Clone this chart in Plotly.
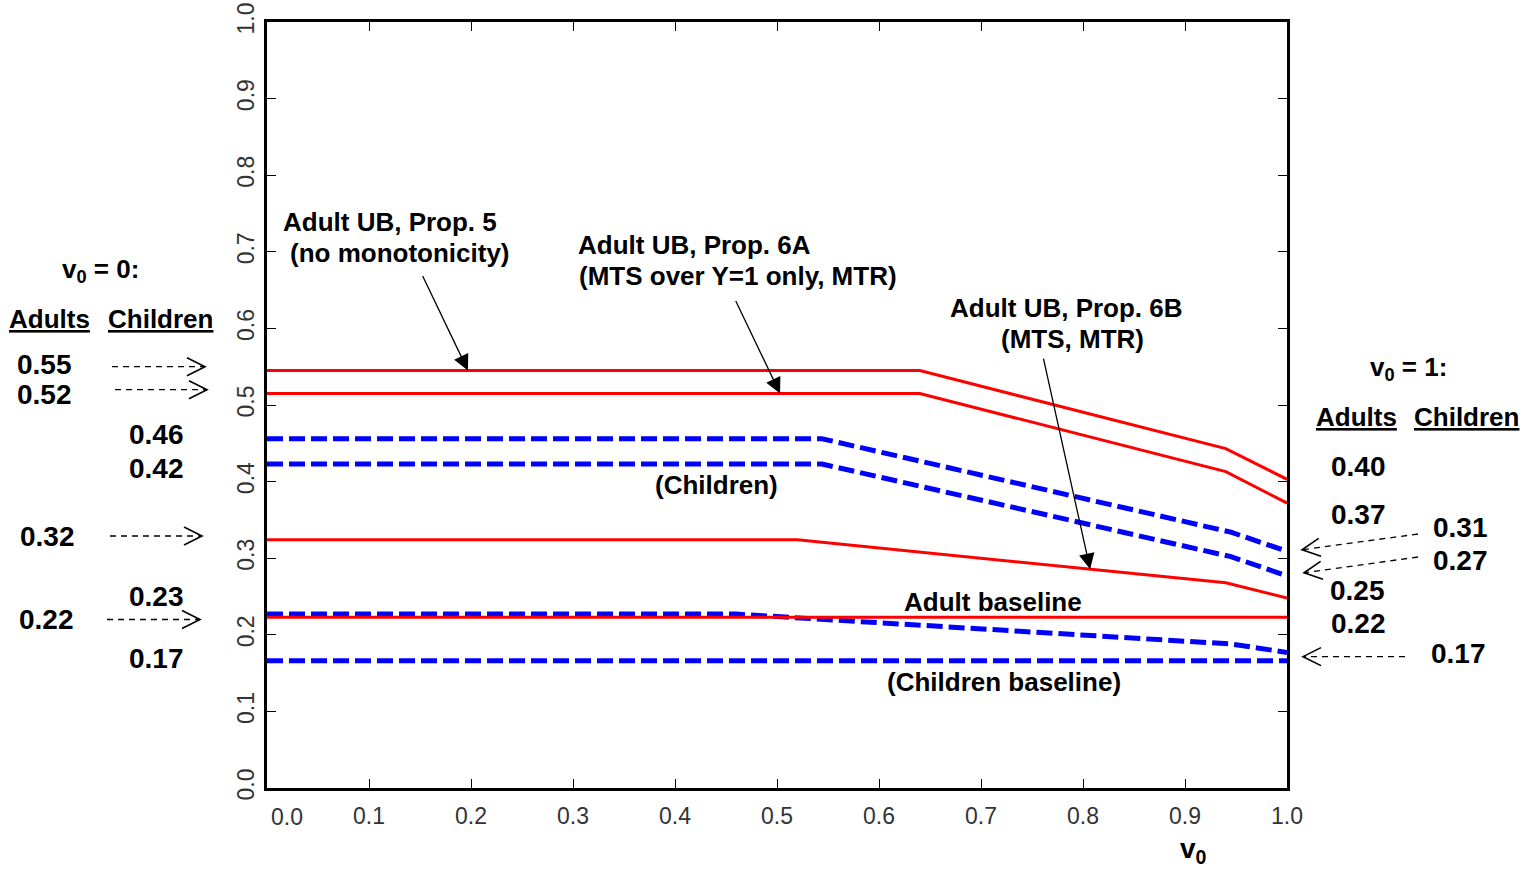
import math
import plotly.graph_objects as go

# ---------------- data ----------------
adult_p5_x = [0.0, 0.64, 0.94, 1.0]
adult_p5_y = [0.545, 0.545, 0.443, 0.403]
adult_p6a_x = [0.0, 0.64, 0.94, 1.0]
adult_p6a_y = [0.515, 0.515, 0.413, 0.372]
adult_p6b_x = [0.0, 0.52, 0.94, 1.0]
adult_p6b_y = [0.324, 0.324, 0.268, 0.248]
adult_base_x = [0.0, 1.0]
adult_base_y = [0.223, 0.223]

child_p5_x = [0.0, 0.544, 0.945, 1.0]
child_p5_y = [0.456, 0.456, 0.334, 0.309]
child_p6a_x = [0.0, 0.544, 0.945, 1.0]
child_p6a_y = [0.423, 0.423, 0.302, 0.277]
child_p6b_x = [0.0, 0.46, 0.945, 1.0]
child_p6b_y = [0.227, 0.227, 0.188, 0.177]
child_base_x = [0.0, 1.0]
child_base_y = [0.166, 0.166]

tick_vals = [0.0, 0.1, 0.2, 0.3, 0.4, 0.5, 0.6, 0.7, 0.8, 0.9, 1.0]
tick_text = ["0.0", "0.1", "0.2", "0.3", "0.4", "0.5", "0.6", "0.7", "0.8", "0.9", "1.0"]

left_adult_vals = ["0.55", "0.52", "0.32", "0.22"]
left_child_vals = ["0.46", "0.42", "0.23", "0.17"]
right_adult_vals = ["0.40", "0.37", "0.25", "0.22"]
right_child_vals = ["0.31", "0.27", "0.17"]

# ---------------- layout helpers (pixel -> paper) ----------------
W, H = 1538, 871
L, R, T, B = 267, 1287, 22, 788
PW, PH = R - L, B - T


def px(x):
    return (x - L) / PW


def py(y):
    return (B - y) / PH


RED = "#ff0000"
BLUE = "#0000ff"

fig = go.Figure()


def add_line(x, y, color, width, dash=None):
    fig.add_trace(go.Scatter(x=x, y=y, mode="lines",
                             line=dict(color=color, width=width, dash=dash),
                             showlegend=False, hoverinfo="skip"))


BDASH = "16px,6px"
add_line(child_p5_x, child_p5_y, BLUE, 5, BDASH)
add_line(child_p6a_x, child_p6a_y, BLUE, 5, BDASH)
add_line(child_p6b_x, child_p6b_y, BLUE, 5, BDASH)
add_line(child_base_x, child_base_y, BLUE, 5, BDASH)
add_line(adult_p5_x, adult_p5_y, RED, 3)
add_line(adult_p6a_x, adult_p6a_y, RED, 3)
add_line(adult_p6b_x, adult_p6b_y, RED, 3)
add_line(adult_base_x, adult_base_y, RED, 3)

annotations = []
FAM = "Liberation Sans, Arial, sans-serif"
BOLD = dict(family=FAM, size=26, color="black", weight="bold")
NUM = dict(family=FAM, size=28, color="black", weight="bold")


def label(text, cx, cy, font=BOLD):
    annotations.append(dict(text=text, x=px(cx), y=py(cy), xref="paper", yref="paper",
                            xanchor="center", yanchor="middle", showarrow=False, font=font))


label("Adult UB, Prop. 5", 390, 222)
label("(no monotonicity)", 400, 253)
label("Adult UB, Prop. 6A", 694, 245)
label("(MTS over Y=1 only, MTR)", 738, 276)
label("Adult UB, Prop. 6B", 1066, 308)
label("(MTS, MTR)", 1072, 339)
label("(Children)", 716, 485)
label("Adult baseline", 993, 602)
label("(Children baseline)", 1004, 682)

# left block
label("v<sub>0</sub> = 0:", 100, 270)
label("<u>Adults</u>", 49, 319)
label("<u>Children</u>", 160, 319)
for t, (cx, cy) in zip(left_adult_vals, [(44, 364), (44, 394), (47, 536), (46, 619)]):
    label(t, cx, cy, NUM)
for t, (cx, cy) in zip(left_child_vals, [(156, 434), (156, 468), (156, 596), (156, 658)]):
    label(t, cx, cy, NUM)

# right block
label("v<sub>0</sub> = 1:", 1408, 368)
label("<u>Adults</u>", 1356, 417)
label("<u>Children</u>", 1466, 417)
for t, (cx, cy) in zip(right_adult_vals, [(1358, 466), (1358, 514), (1357, 590), (1358, 623)]):
    label(t, cx, cy, NUM)
for t, (cx, cy) in zip(right_child_vals, [(1460, 527), (1460, 560), (1458, 653)]):
    label(t, cx, cy, NUM)

# x-axis title
label("v<sub>0</sub>", 1193, 851, dict(family=FAM, size=28, color="black", weight="bold"))

TICKFONT = dict(family=FAM, size=23, color="#333333")

# x tick label "0.0" shifted right as in the reference
annotations.append(dict(text="0.0", x=0, y=0, xref="x", yref="paper", xanchor="center",
                        yanchor="top", xshift=20, yshift=-14, showarrow=False,
                        font=TICKFONT))


# callout arrows (solid, filled heads)
def callout(xv, yv, ax, ay):
    annotations.append(dict(text="", x=xv, y=yv, xref="x", yref="y", ax=ax, ay=ay,
                            showarrow=True, arrowhead=2, arrowsize=2.4, arrowwidth=1.3,
                            arrowcolor="black", standoff=0))


callout(0.197, adult_p5_y[0], -46, -96)
callout(0.503, adult_p6a_y[0], -45, -94)
x3 = 0.807
y3 = adult_p6b_y[1] + (adult_p6b_y[2] - adult_p6b_y[1]) * (x3 - adult_p6b_x[1]) / (adult_p6b_x[2] - adult_p6b_x[1])
callout(x3, y3, -47, -212)

# dashed pointer arrows outside the plot (shapes)
shapes = []


def dashed_arrow(tail_px, tip_x_px, tip_val, tail_y_px=None):
    tip_y_px = B - tip_val * PH
    ty = tip_y_px if tail_y_px is None else tail_y_px
    tx = tail_px
    shapes.append(dict(type="line", xref="paper", yref="paper",
                       x0=px(tx), y0=py(ty), x1=px(tip_x_px), y1=py(tip_y_px),
                       line=dict(color="black", width=1.3, dash="6px,5px")))
    dx, dy = tip_x_px - tx, tip_y_px - ty
    n = math.hypot(dx, dy)
    ux, uy = dx / n, dy / n
    back, half = 18, 9
    p1 = (tip_x_px - ux * back - uy * half, tip_y_px - uy * back + ux * half)
    p2 = (tip_x_px - ux * back + uy * half, tip_y_px - uy * back - ux * half)
    path = "M %f,%f L %f,%f L %f,%f" % (px(p1[0]), py(p1[1]), px(tip_x_px), py(tip_y_px),
                                        px(p2[0]), py(p2[1]))
    shapes.append(dict(type="path", xref="paper", yref="paper", path=path,
                       line=dict(color="black", width=1.6)))


dashed_arrow(112, 205, adult_p5_y[0] + 0.005)
dashed_arrow(115, 207, adult_p6a_y[0] + 0.005)
dashed_arrow(110, 202, adult_p6b_y[0] + 0.005)
dashed_arrow(107, 200, adult_base_y[0] - 0.003)
dashed_arrow(1418, 1302, child_p5_y[-1] + 0.002, tail_y_px=534)
dashed_arrow(1418, 1304, child_p6a_y[-1] + 0.004, tail_y_px=557)
dashed_arrow(1405, 1303, (child_p6b_y[-1] + child_base_y[-1]) / 2, tail_y_px=None)

fig.update_layout(
    width=W, height=H,
    margin=dict(l=L, r=W - R, t=T, b=H - B, pad=0, autoexpand=False),
    paper_bgcolor="white", plot_bgcolor="white",
    showlegend=False,
    annotations=annotations,
    shapes=shapes,
    xaxis=dict(range=[0, 1], tickvals=tick_vals, automargin=False,
               ticktext=[""] + tick_text[1:], showgrid=False, zeroline=False,
               showline=True, linecolor="black", linewidth=2.5, mirror="ticks",
               ticks="inside", ticklen=9, tickwidth=1.3, tickcolor="black",
               tickfont=TICKFONT, ticklabelstandoff=6),
    yaxis=dict(range=[0, 1], tickvals=tick_vals, ticktext=tick_text, tickangle=-90,
               automargin=False, showgrid=False, zeroline=False,
               showline=True, linecolor="black", linewidth=2.5, mirror="ticks",
               ticks="inside", ticklen=9, tickwidth=1.3, tickcolor="black",
               tickfont=TICKFONT, ticklabelstandoff=1),
)

fig.write_html("out.html")
